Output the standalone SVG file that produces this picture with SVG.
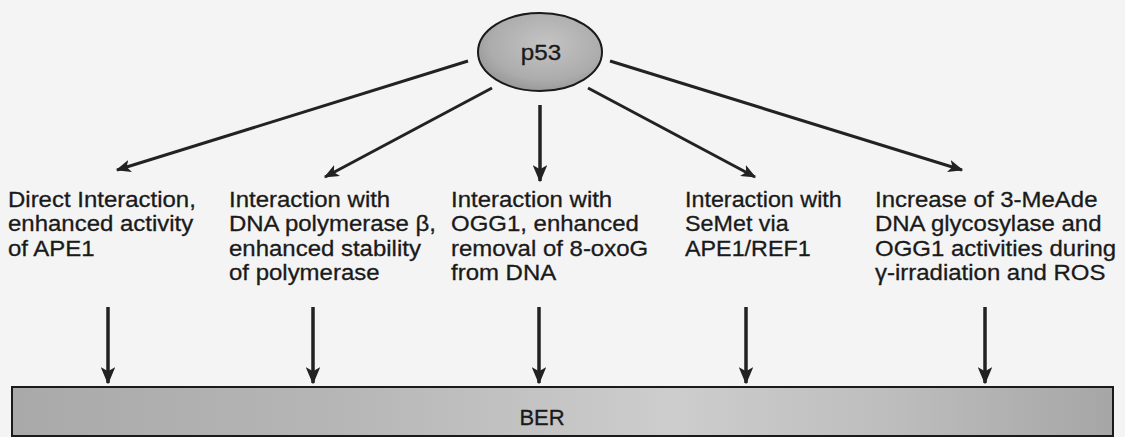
<svg xmlns="http://www.w3.org/2000/svg" width="1125" height="437" viewBox="0 0 1125 437">
<defs>
<style>
.t{font-family:"Liberation Sans",Arial,Helvetica,sans-serif;font-size:22px;fill:#1a1a1a;stroke:#1a1a1a;stroke-width:0.3;}
.c{stroke:#222;stroke-width:3;fill:none;}
.v{stroke-width:3.5;}
</style>
<marker id="ah" viewBox="0 0 12 10" refX="11" refY="5" markerWidth="5" markerHeight="4.2" orient="auto" markerUnits="strokeWidth">
<path d="M0,0 L12,5 L0,10 L3,5 Z" fill="#222"/>
</marker>
<radialGradient id="eg" cx="0.55" cy="0.4" r="0.65">
<stop offset="0" stop-color="#c4c4c4"/>
<stop offset="0.7" stop-color="#acacac"/>
<stop offset="1" stop-color="#949494"/>
</radialGradient>
<linearGradient id="bg" x1="0" y1="0" x2="1" y2="0">
<stop offset="0" stop-color="#a9a9a9"/>
<stop offset="0.3" stop-color="#b6b6b6"/>
<stop offset="0.6" stop-color="#cdcdcd"/>
<stop offset="0.8" stop-color="#bdbdbd"/>
<stop offset="1" stop-color="#a6a6a6"/>
</linearGradient>
</defs>
<rect width="1125" height="437" fill="#f4f4f4"/>

<g id="connectors">
<line class="c" x1="468" y1="61" x2="117" y2="170" marker-end="url(#ah)"/>
<line class="c" x1="492" y1="88" x2="325" y2="177" marker-end="url(#ah)"/>
<line class="c v" x1="540" y1="105" x2="540" y2="181" marker-end="url(#ah)"/>
<line class="c" x1="588" y1="88" x2="755" y2="177" marker-end="url(#ah)"/>
<line class="c" x1="610" y1="61" x2="962" y2="170" marker-end="url(#ah)"/>
<line class="c v" x1="108" y1="307" x2="108" y2="383" marker-end="url(#ah)"/>
<line class="c v" x1="313" y1="307" x2="313" y2="383" marker-end="url(#ah)"/>
<line class="c v" x1="539" y1="307" x2="539" y2="383" marker-end="url(#ah)"/>
<line class="c v" x1="746" y1="307" x2="746" y2="383" marker-end="url(#ah)"/>
<line class="c v" x1="985" y1="307" x2="985" y2="383" marker-end="url(#ah)"/>
</g>

<g id="p53">
<ellipse cx="540" cy="52" rx="62" ry="39" fill="url(#eg)" stroke="#1a1a1a" stroke-width="2"/>
<text class="t" x="0" y="0" text-anchor="middle" font-size="24" transform="translate(541,60) scale(1.1,1)">p53</text>
</g>

<g id="n1">
<text class="t" transform="translate(8,207) scale(1.09,1)"><tspan x="0" y="0">Direct Interaction,</tspan><tspan x="0" y="24.5">enhanced activity</tspan><tspan x="0" y="49">of APE1</tspan></text>
</g>
<g id="n2">
<text class="t" transform="translate(229,207) scale(1.09,1)"><tspan x="0" y="0">Interaction with</tspan><tspan x="0" y="24.5">DNA polymerase β,</tspan><tspan x="0" y="49">enhanced stability</tspan><tspan x="0" y="73.5">of polymerase</tspan></text>
</g>
<g id="n3">
<text class="t" transform="translate(451,207) scale(1.09,1)"><tspan x="0" y="0">Interaction with</tspan><tspan x="0" y="24.5">OGG1, enhanced</tspan><tspan x="0" y="49">removal of 8-oxoG</tspan><tspan x="0" y="73.5">from DNA</tspan></text>
</g>
<g id="n4">
<text class="t" transform="translate(685,207) scale(1.06,1)"><tspan x="0" y="0">Interaction with</tspan><tspan x="0" y="24.5">SeMet via</tspan><tspan x="0" y="49">APE1/REF1</tspan></text>
</g>
<g id="n5">
<text class="t" transform="translate(875,207) scale(1.09,1)"><tspan x="0" y="0">Increase of 3-MeAde</tspan><tspan x="0" y="24.5">DNA glycosylase and</tspan><tspan x="0" y="49">OGG1 activities during</tspan><tspan x="0" y="73.5">γ-irradiation and ROS</tspan></text>
</g>

<g id="ber">
<rect x="12" y="387" width="1101" height="49" fill="url(#bg)" stroke="#1a1a1a" stroke-width="2"/>
<text class="t" x="542" y="425" text-anchor="middle" font-size="25">BER</text>
</g>
</svg>
